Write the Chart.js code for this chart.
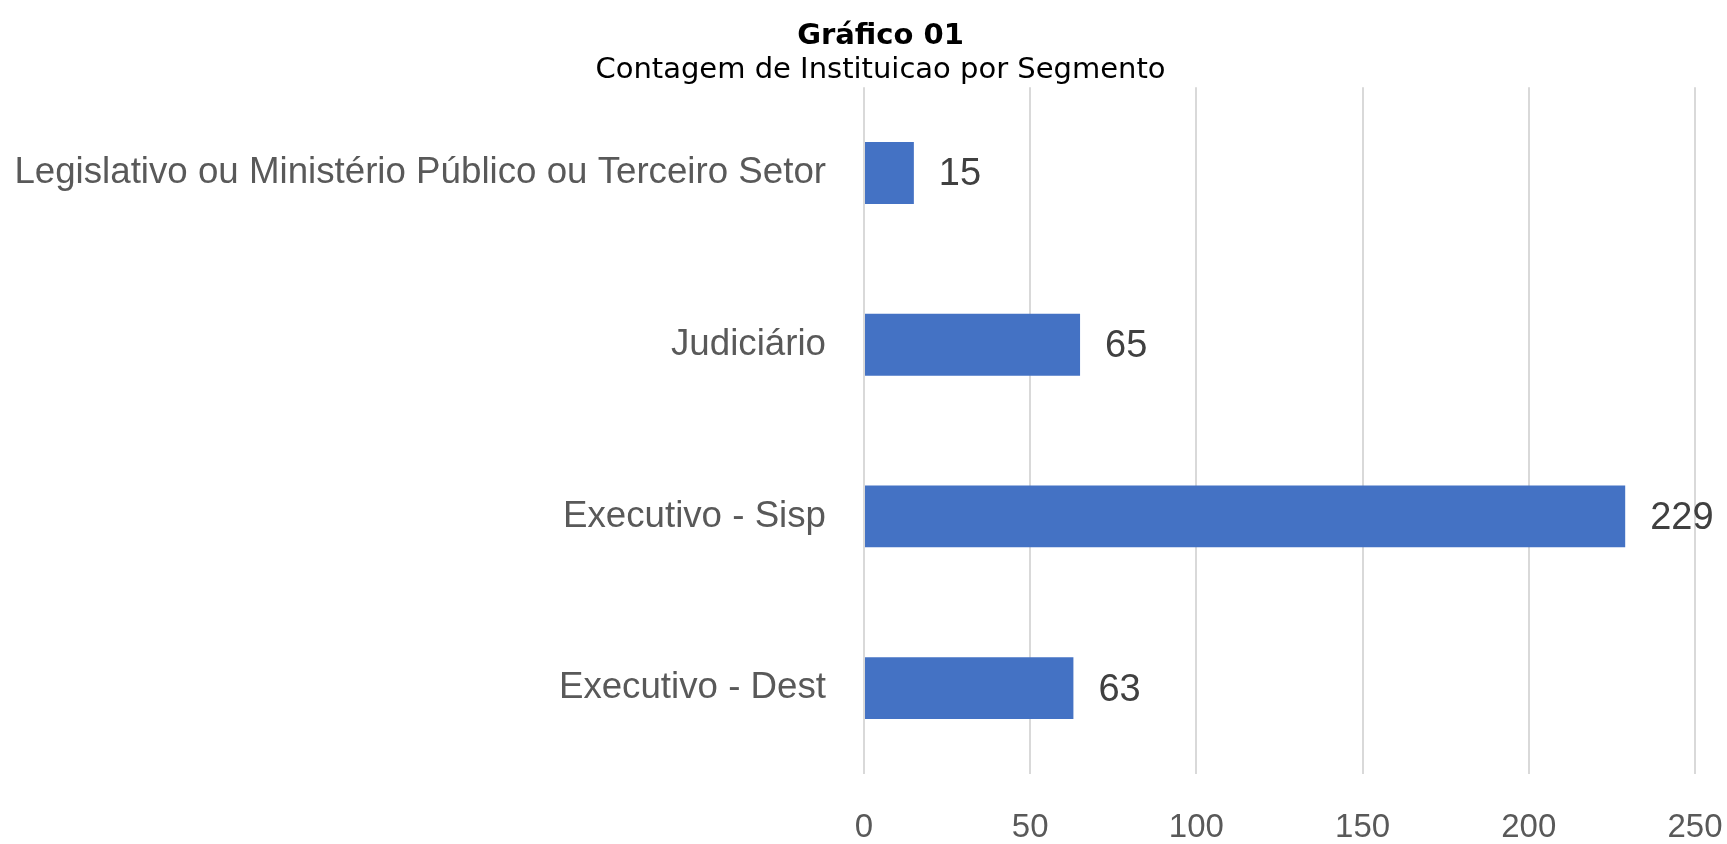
<!DOCTYPE html>
<html lang="pt-br">

<head>
    <meta charset="UTF-8">
    <title>Gráfico 01</title>
    <script src="https://cdn.jsdelivr.net/npm/chart.js"></script>
    <style>
        html, body {
            margin: 0;
            padding: 0;
            background: #ffffff;
        }

        .grafico {
            width: 1727px;
            height: 844px;
        }
    </style>
</head>

<body>
    <div class="grafico">
        <canvas id="graficoSegmento"></canvas>
    </div>
</body>

</html>
<script>
    // dados
    var segmentos = ['Legislativo ou Ministério Público ou Terceiro Setor', 'Judiciário', 'Executivo - Sisp', 'Executivo - Dest'];
    var contagem = [15, 65, 229, 63];
    var ticksX = [0, 50, 100, 150, 200, 250];

    const ctxSegmento = document.getElementById('graficoSegmento');

    // escreve o valor ao lado de cada barra
    const rotulosBarras = {
        id: 'rotulosBarras',
        afterLayout(chart) {
            // o eixo y começa no padding esquerdo; abre a área para o rótulo longo não ser cortado
            chart.scales.y.left = 0;
        },
        afterDatasetsDraw(chart) {
            const ctx = chart.ctx;
            ctx.save();
            ctx.font = '38px "Liberation Sans", Arial, sans-serif';
            ctx.fillStyle = '#404040';
            ctx.textAlign = 'left';
            ctx.textBaseline = 'middle';
            chart.getDatasetMeta(0).data.forEach((barra, i) => {
                ctx.fillText(contagem[i], barra.x + 25, barra.y + 2);
            });
            ctx.restore();
        }
    };

    new Chart(ctxSegmento, {
        type: 'bar',
        data: {
            labels: segmentos,
            datasets: [{
                label: 'Contagem',
                data: contagem,
                backgroundColor: '#4472C4',
                borderWidth: 0,
                barPercentage: 0.36,
                categoryPercentage: 1
            }]
        },
        options: {
            indexAxis: 'y',
            responsive: true,
            maintainAspectRatio: false,
            animation: false,
            layout: {
                padding: { left: 34, right: 0, top: 0, bottom: 0 }
            },
            plugins: {
                legend: { display: false },
                tooltip: { enabled: false },
                title: {
                    display: true,
                    text: 'Gráfico 01',
                    color: '#000000',
                    font: { family: '"DejaVu Sans", Verdana, sans-serif', size: 29, weight: 'bold', lineHeight: 1.2 },
                    padding: { top: 19, bottom: 0 }
                },
                subtitle: {
                    display: true,
                    text: 'Contagem de Instituicao por Segmento',
                    color: '#000000',
                    font: { family: '"DejaVu Sans", Verdana, sans-serif', size: 29, weight: 'normal', lineHeight: 1.15 },
                    padding: { top: 0, bottom: 0 }
                }
            },
            scales: {
                x: {
                    min: ticksX[0],
                    max: ticksX[ticksX.length - 1],
                    afterBuildTicks: (scale) => {
                        scale.ticks = ticksX.map(v => ({ value: v }));
                    },
                    afterFit: (scale) => {
                        scale.height = 70;
                        scale.paddingRight = 32;
                    },
                    grid: {
                        color: '#d9d9d9',
                        lineWidth: 2,
                        drawTicks: false
                    },
                    border: { display: false },
                    ticks: {
                        color: '#595959',
                        padding: 34,
                        font: { family: '"Liberation Sans", Arial, sans-serif', size: 33 }
                    }
                },
                y: {
                    afterFit: (scale) => {
                        scale.width = 830;
                    },
                    grid: { display: false, drawTicks: false },
                    border: { display: false },
                    ticks: {
                        color: '#595959',
                        padding: 38,
                        font: { family: '"Liberation Sans", Arial, sans-serif', size: 36.7 }
                    }
                }
            }
        },
        plugins: [rotulosBarras]
    });
</script>
